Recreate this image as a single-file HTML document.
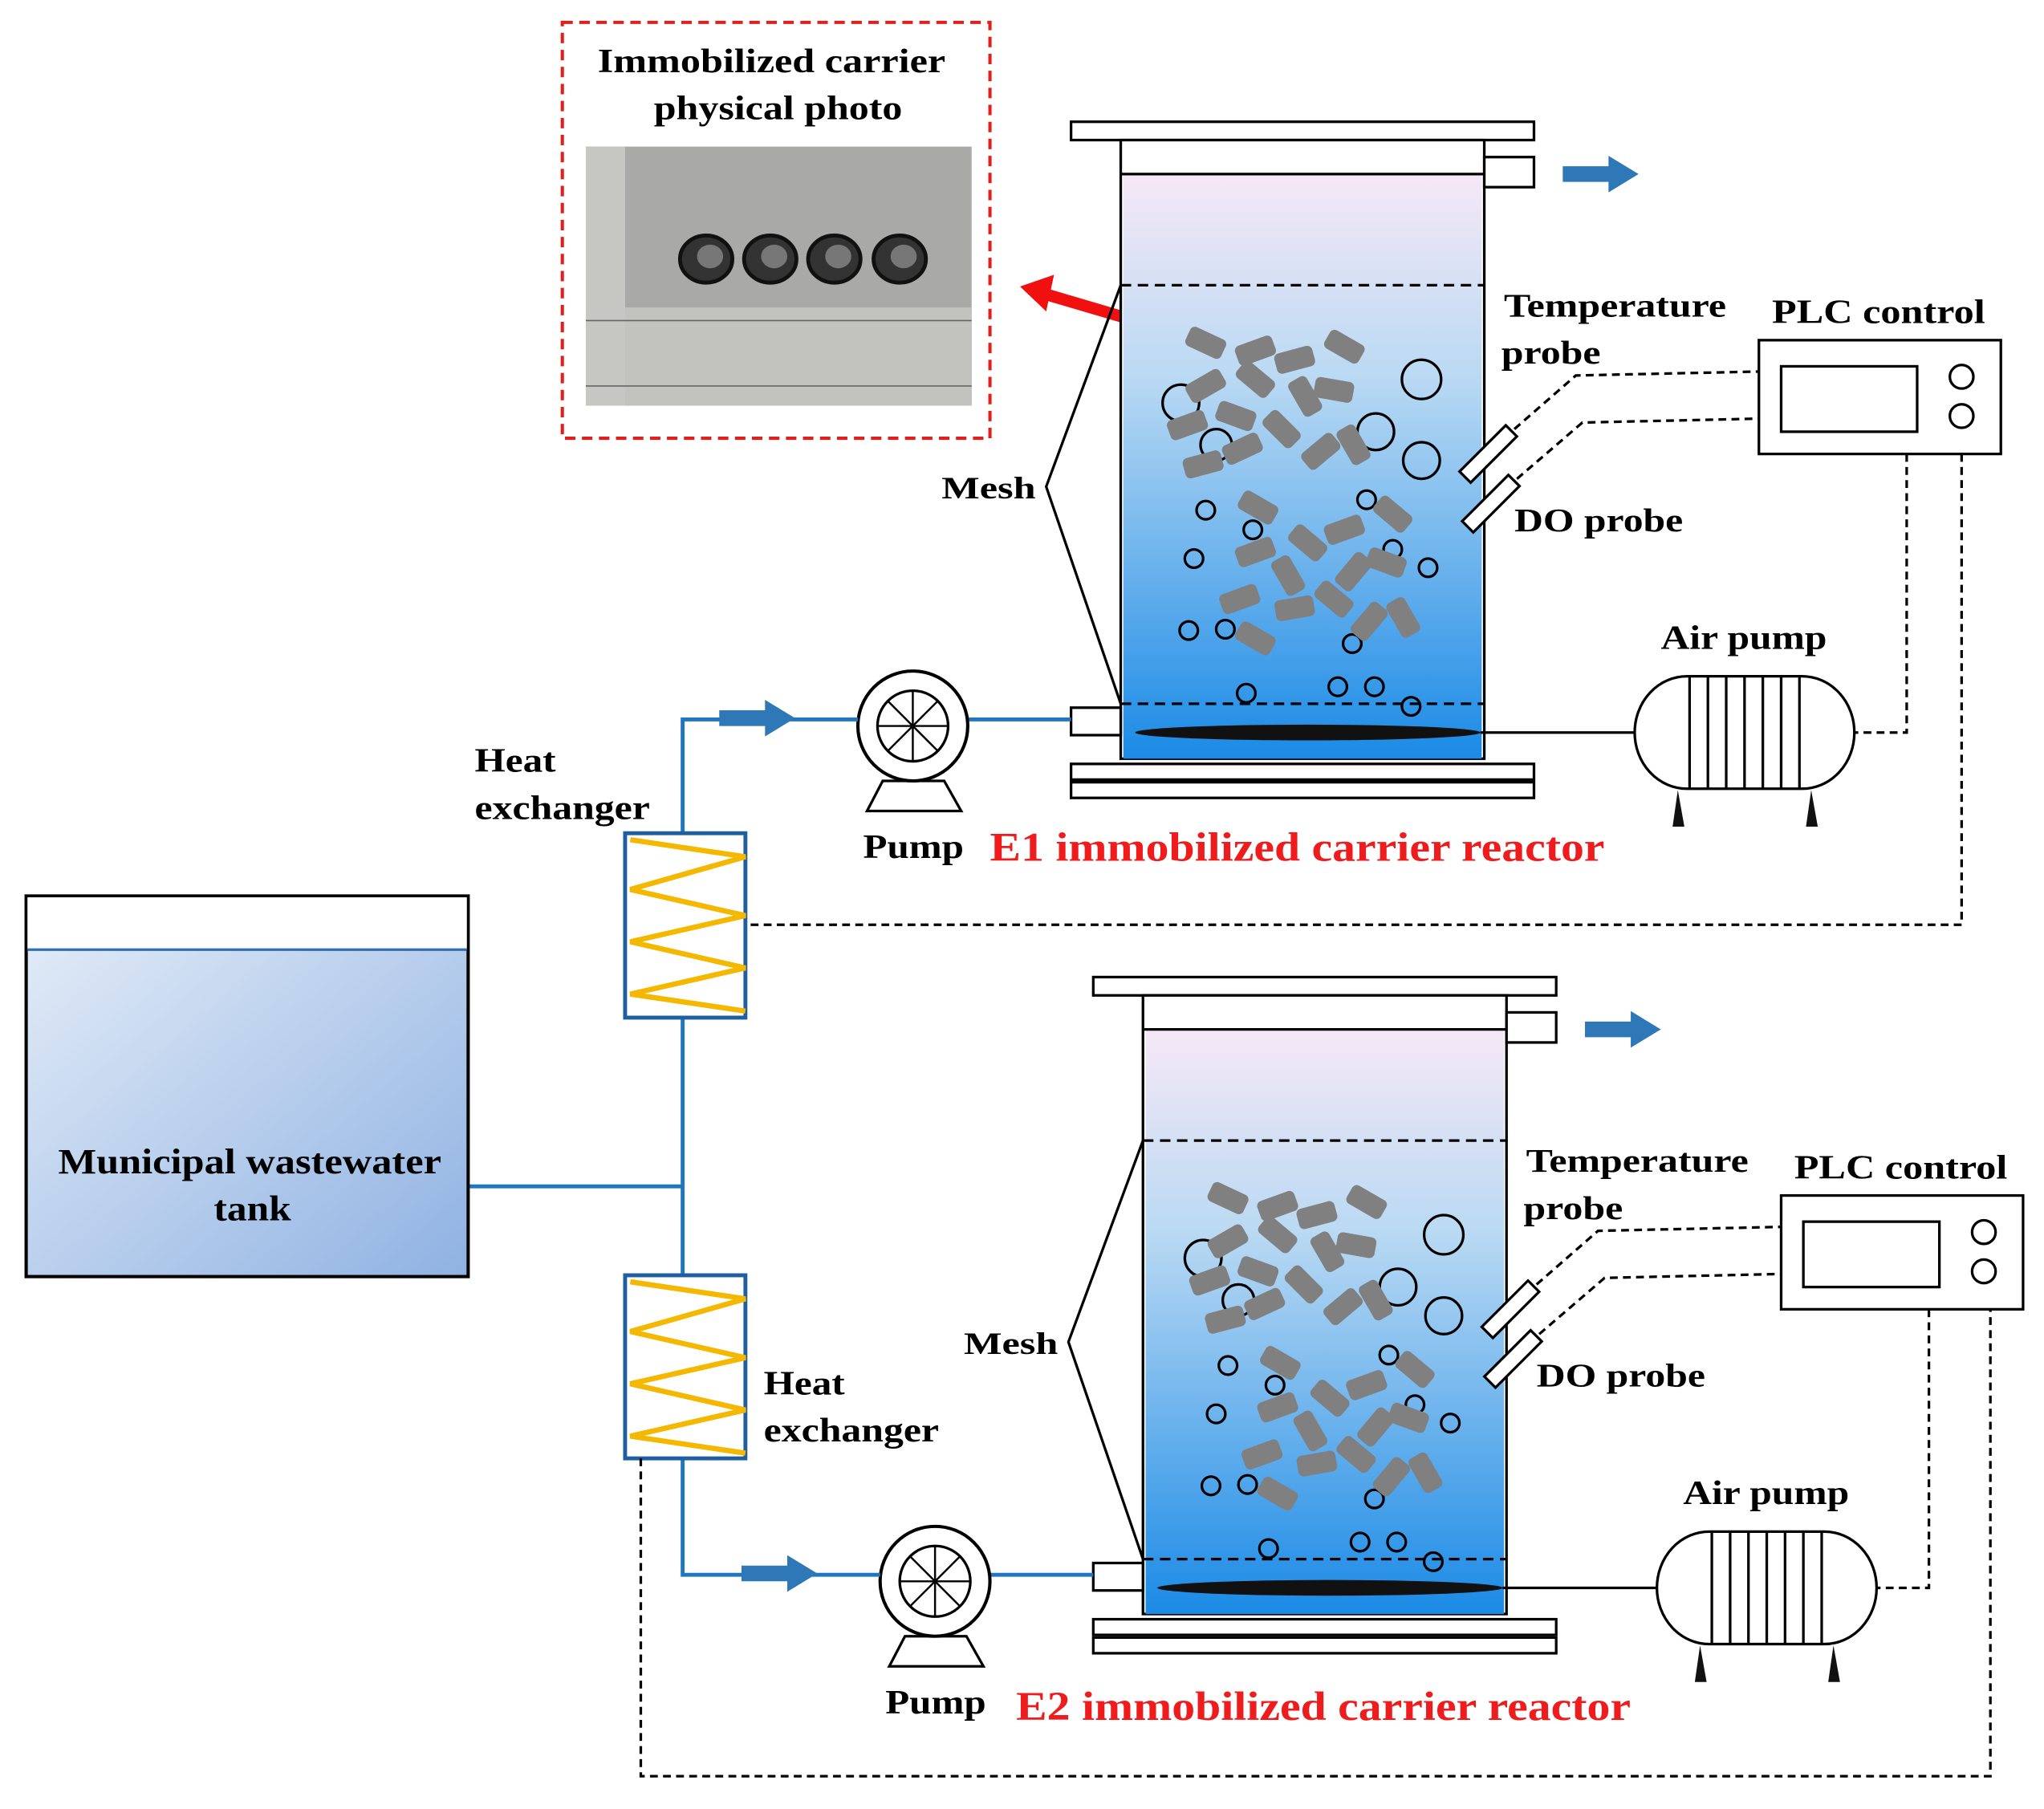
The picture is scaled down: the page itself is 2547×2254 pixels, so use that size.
<!DOCTYPE html>
<html><head><meta charset="utf-8"><style>html,body{margin:0;padding:0;background:#fff}svg{display:block}</style></head><body>
<svg width="2547" height="2254" viewBox="0 0 1563 1383" xmlns="http://www.w3.org/2000/svg" font-family="Liberation Serif, serif" font-weight="bold">
<defs>
<linearGradient id="liq" x1="0" y1="0" x2="0" y2="1"><stop offset="0" stop-color="#f6e8f6"/><stop offset="0.35" stop-color="#b9d9f3"/><stop offset="1" stop-color="#1a8ae6"/></linearGradient>
<linearGradient id="tank" x1="0" y1="0" x2="1" y2="1"><stop offset="0" stop-color="#e6eef8"/><stop offset="1" stop-color="#8fb2e2"/></linearGradient>
<g id="carrier"><rect x="-15" y="-8" width="30" height="16" rx="4" fill="#808080"/></g>
<g id="barrow"><polygon points="0,-6 35,-6 35,-14 58,0 35,14 35,6 0,6" fill="#2f78b8"/></g>
<g id="reactor">
<rect x="819" y="93" width="354" height="14" fill="#fff" stroke="#000" stroke-width="2"/>
<rect x="857" y="107" width="278" height="473" fill="#fff" stroke="#000" stroke-width="2"/>
<rect x="859" y="133" width="274" height="447" fill="url(#liq)"/>
<line x1="857" y1="133" x2="1135" y2="133" stroke="#000" stroke-width="2"/>
<rect x="1135" y="120" width="38" height="23" fill="#fff" stroke="#000" stroke-width="2"/>
<use href="#barrow" transform="translate(1195,133)"/>
<line x1="857" y1="218" x2="1135" y2="218" stroke="#000" stroke-width="2" stroke-dasharray="8,5"/>
<line x1="857" y1="538" x2="1135" y2="538" stroke="#000" stroke-width="2" stroke-dasharray="8,5"/>
<polyline points="857,218 800,372 857,538" fill="none" stroke="#000" stroke-width="2"/>
<text x="720" y="381" font-size="24" textLength="72" lengthAdjust="spacingAndGlyphs">Mesh</text>
<rect x="819" y="584" width="354" height="12" fill="#fff" stroke="#000" stroke-width="2"/>
<rect x="819" y="598" width="354" height="12" fill="#fff" stroke="#000" stroke-width="2"/>
<rect x="819" y="541" width="38" height="21" fill="#fff" stroke="#000" stroke-width="2"/>
<ellipse cx="1000" cy="560" rx="132" ry="6" fill="#111"/>
<line x1="1132" y1="560" x2="1250" y2="560" stroke="#000" stroke-width="2"/>
<g fill="none" stroke="#000" stroke-width="2">
<circle cx="903" cy="308" r="14"/><circle cx="1087" cy="290" r="15"/><circle cx="1052" cy="330" r="14"/><circle cx="1087" cy="352" r="14"/><circle cx="930" cy="340" r="12"/>
<circle cx="922" cy="390" r="7"/><circle cx="958" cy="405" r="7"/><circle cx="1045" cy="382" r="7"/><circle cx="913" cy="427" r="7"/><circle cx="1092" cy="434" r="7"/><circle cx="1065" cy="420" r="7"/>
<circle cx="909" cy="482" r="7"/><circle cx="937" cy="481" r="7"/><circle cx="1034" cy="492" r="7"/>
<circle cx="953" cy="530" r="7"/><circle cx="1023" cy="525" r="7"/><circle cx="1051" cy="525" r="7"/><circle cx="1079" cy="540" r="7"/>
</g>
<use href="#carrier" transform="translate(922,262) rotate(25)"/>
<use href="#carrier" transform="translate(960,268) rotate(-20)"/><use href="#carrier" transform="translate(990,275) rotate(-15)"/><use href="#carrier" transform="translate(1028,265) rotate(30)"/>
<use href="#carrier" transform="translate(922,295) rotate(-30)"/><use href="#carrier" transform="translate(960,290) rotate(40)"/><use href="#carrier" transform="translate(998,303) rotate(60)"/><use href="#carrier" transform="translate(1020,298) rotate(10)"/>
<use href="#carrier" transform="translate(908,325) rotate(-20)"/><use href="#carrier" transform="translate(945,318) rotate(20)"/><use href="#carrier" transform="translate(980,328) rotate(45)"/><use href="#carrier" transform="translate(1010,345) rotate(-40)"/><use href="#carrier" transform="translate(1035,340) rotate(60)"/>
<use href="#carrier" transform="translate(920,355) rotate(-15)"/><use href="#carrier" transform="translate(950,343) rotate(-25)"/>
<use href="#carrier" transform="translate(962,388) rotate(30)"/><use href="#carrier" transform="translate(1000,415) rotate(40)"/><use href="#carrier" transform="translate(1028,405) rotate(-20)"/><use href="#carrier" transform="translate(1065,393) rotate(40)"/>
<use href="#carrier" transform="translate(960,422) rotate(-20)"/><use href="#carrier" transform="translate(985,440) rotate(60)"/><use href="#carrier" transform="translate(1035,437) rotate(-50)"/><use href="#carrier" transform="translate(1060,430) rotate(20)"/>
<use href="#carrier" transform="translate(948,458) rotate(-20)"/><use href="#carrier" transform="translate(990,465) rotate(-10)"/><use href="#carrier" transform="translate(1020,458) rotate(40)"/><use href="#carrier" transform="translate(1047,475) rotate(-50)"/><use href="#carrier" transform="translate(1073,472) rotate(60)"/>
<use href="#carrier" transform="translate(960,488) rotate(30)"/>
<g transform="translate(1138,347) rotate(-45)"><rect x="-25" y="-6" width="50" height="12" fill="#fff" stroke="#000" stroke-width="2"/></g>
<g transform="translate(1140,385) rotate(-45)"><rect x="-25" y="-6" width="50" height="12" fill="#fff" stroke="#000" stroke-width="2"/></g>
<g fill="none" stroke="#000" stroke-width="2" stroke-dasharray="6,4">
<polyline points="1158,328 1205,287 1345,284"/><polyline points="1160,366 1210,323 1345,320"/>
<polyline points="1458,347 1458,560 1418,560"/>
</g>
<text x="1150" y="242" font-size="25" textLength="170" lengthAdjust="spacingAndGlyphs">Temperature</text><text x="1148" y="278" font-size="25" textLength="76" lengthAdjust="spacingAndGlyphs">probe</text>
<text x="1158" y="406" font-size="25" textLength="129" lengthAdjust="spacingAndGlyphs">DO probe</text>
<text x="1355" y="247" font-size="26" textLength="163" lengthAdjust="spacingAndGlyphs">PLC control</text>
<rect x="1345" y="260" width="185" height="87" fill="#fff" stroke="#000" stroke-width="2"/>
<rect x="1362" y="280" width="104" height="50" fill="#fff" stroke="#000" stroke-width="2"/>
<circle cx="1500" cy="288" r="9" fill="#fff" stroke="#000" stroke-width="2"/><circle cx="1500" cy="318" r="9" fill="#fff" stroke="#000" stroke-width="2"/>
<text x="1270" y="496" font-size="26" textLength="127" lengthAdjust="spacingAndGlyphs">Air pump</text>
<rect x="1250" y="517" width="168" height="86" rx="40" ry="43" fill="#fff" stroke="#000" stroke-width="2"/>
<g stroke="#000" stroke-width="2"><line x1="1292" y1="517" x2="1292" y2="603"/><line x1="1306" y1="517" x2="1306" y2="603"/><line x1="1320" y1="517" x2="1320" y2="603"/><line x1="1334" y1="517" x2="1334" y2="603"/><line x1="1348" y1="517" x2="1348" y2="603"/><line x1="1362" y1="517" x2="1362" y2="603"/><line x1="1376" y1="517" x2="1376" y2="603"/></g>
<polygon points="1279,632 1283,604 1288,632" fill="#111"/><polygon points="1381,632 1385,604 1390,632" fill="#111"/>
<line x1="740" y1="550" x2="819" y2="550" stroke="#1f77c0" stroke-width="3"/>
<polygon points="675,597 663,620 735,620 722,597" fill="#fff" stroke="#000" stroke-width="2"/>
<circle cx="698" cy="555" r="42" fill="#fff" stroke="#000" stroke-width="2.5"/>
<circle cx="698" cy="555" r="27" fill="#fff" stroke="#000" stroke-width="2"/>
<g stroke="#000" stroke-width="1.5"><line x1="671" y1="555" x2="725" y2="555"/><line x1="698" y1="528" x2="698" y2="582"/><line x1="679" y1="536" x2="717" y2="574"/><line x1="717" y1="536" x2="679" y2="574"/></g>
<text x="660" y="656" font-size="26" textLength="77" lengthAdjust="spacingAndGlyphs">Pump</text>
</g>
</defs>
<rect width="1563" height="1383" fill="#fff"/>
<rect x="430" y="17" width="327" height="318" fill="none" stroke="#e0201c" stroke-width="2.5" stroke-dasharray="8,5"/>
<text x="590" y="55" font-size="26" text-anchor="middle" textLength="266" lengthAdjust="spacingAndGlyphs">Immobilized carrier</text>
<text x="595" y="91" font-size="26" text-anchor="middle" textLength="190" lengthAdjust="spacingAndGlyphs">physical photo</text>
<rect x="448" y="112" width="295" height="198" fill="#a9a9a7"/>
<rect x="448" y="235" width="295" height="75" fill="#c2c2be"/>
<rect x="448" y="112" width="30" height="198" fill="#c6c6c2"/>
<g stroke="#666" stroke-width="1"><line x1="448" y1="245" x2="743" y2="245"/><line x1="448" y1="295" x2="743" y2="295"/></g>
<g fill="#333" stroke="#111" stroke-width="3"><ellipse cx="540" cy="198" rx="20" ry="18"/><ellipse cx="589" cy="198" rx="20" ry="18"/><ellipse cx="638" cy="198" rx="20" ry="18"/><ellipse cx="688" cy="198" rx="20" ry="18"/></g>
<g fill="#777"><ellipse cx="543" cy="196" rx="10" ry="9"/><ellipse cx="592" cy="196" rx="10" ry="9"/><ellipse cx="641" cy="196" rx="10" ry="9"/><ellipse cx="691" cy="196" rx="10" ry="9"/></g>
<line x1="878" y1="248" x2="800" y2="225" stroke="#f01010" stroke-width="9"/>
<polygon points="780,219 806,210 800,238" fill="#f01010"/>
<circle cx="918" cy="252" r="25" fill="none" stroke="#e0201c" stroke-width="2.5"/>
<use href="#reactor"/>
<text x="757" y="658" font-size="31" fill="#ee1c1c" textLength="470" lengthAdjust="spacingAndGlyphs">E1 immobilized carrier reactor</text>
<g transform="translate(17,654)"><use href="#reactor"/></g>
<text x="777" y="1315" font-size="31" fill="#ee1c1c" textLength="470" lengthAdjust="spacingAndGlyphs">E2 immobilized carrier reactor</text>
<g fill="none" stroke="#1f77c0" stroke-width="3">
<polyline points="522,637 522,550 656,550"/>
<polyline points="522,778 522,975"/>
<line x1="358" y1="907" x2="522" y2="907"/>
<polyline points="522,1115 522,1204 673,1204"/>
</g>
<use href="#barrow" transform="translate(550,549)"/>
<use href="#barrow" transform="translate(567,1203)"/>
<rect x="20" y="685" width="338" height="291" fill="url(#tank)" stroke="#000" stroke-width="2.5"/>
<rect x="21" y="686" width="336" height="40" fill="#fff"/>
<line x1="21" y1="726" x2="357" y2="726" stroke="#2f6fb0" stroke-width="2"/>
<text x="191" y="897" font-size="27" text-anchor="middle" textLength="293" lengthAdjust="spacingAndGlyphs">Municipal wastewater</text>
<text x="193" y="933" font-size="27" text-anchor="middle" textLength="59" lengthAdjust="spacingAndGlyphs">tank</text>
<rect x="478" y="637" width="92" height="141" fill="#fff" stroke="#1f5f9f" stroke-width="3"/>
<polyline points="482,642 570,655 482,680 570,700 482,720 570,740 482,760 570,773" fill="none" stroke="#f5b800" stroke-width="4"/>
<rect x="478" y="975" width="92" height="140" fill="#fff" stroke="#1f5f9f" stroke-width="3"/>
<polyline points="482,980 570,993 482,1018 570,1038 482,1058 570,1078 482,1098 570,1111" fill="none" stroke="#f5b800" stroke-width="4"/>
<text x="363" y="590" font-size="26" textLength="62" lengthAdjust="spacingAndGlyphs">Heat</text><text x="363" y="626" font-size="26" textLength="134" lengthAdjust="spacingAndGlyphs">exchanger</text>
<text x="584" y="1066" font-size="26" textLength="62" lengthAdjust="spacingAndGlyphs">Heat</text><text x="584" y="1102" font-size="26" textLength="134" lengthAdjust="spacingAndGlyphs">exchanger</text>
<g fill="none" stroke="#000" stroke-width="2" stroke-dasharray="6,4">
<polyline points="1500,347 1500,707 570,707"/>
<polyline points="490,1115 490,1358 1522,1358 1522,1002"/>
</g>
</svg>
</body></html>
